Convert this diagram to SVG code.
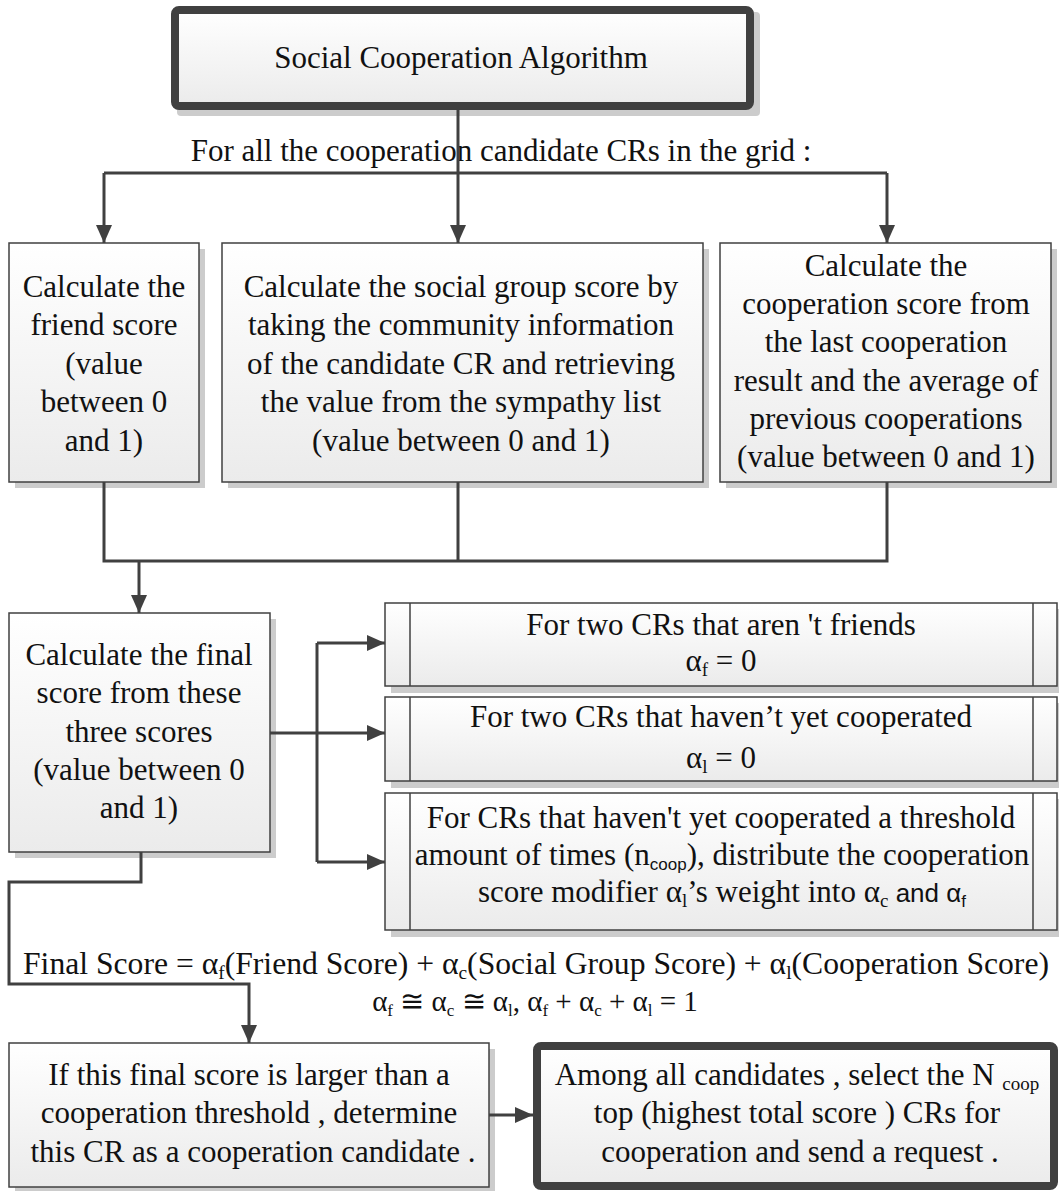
<svg xmlns="http://www.w3.org/2000/svg" width="1059" height="1191" viewBox="0 0 1059 1191">
<style>
.t{font-family:"Liberation Serif","Times New Roman",Times,serif;font-size:31px;fill:#111;text-anchor:middle}
.sub{font-size:19px}
.f2{font-size:29px}
.sub2{font-size:17px}
.sans{font-family:"Liberation Sans",Arial,sans-serif;font-size:26px}
.sans-sub{font-family:"Liberation Sans",Arial,sans-serif;font-size:17px}
.box{fill:url(#g);stroke:#404040;stroke-width:1.5}
.thick{fill:url(#g);stroke:#404040;stroke-width:8}
.sh{fill:#cccccc}
.c{fill:none;stroke:#404040;stroke-width:3}
.a{marker-end:url(#ah)}
.in{stroke:#404040;stroke-width:1.5}
</style>
<defs>
<linearGradient id="g" x1="0" y1="0" x2="0" y2="1">
<stop offset="0" stop-color="#ffffff"/>
<stop offset="1" stop-color="#ebebeb"/>
</linearGradient>
<marker id="ah" markerUnits="userSpaceOnUse" markerWidth="18" markerHeight="16" refX="18" refY="8" orient="auto">
<path d="M0,0 L18,8 L0,16 Z" fill="#404040"/>
</marker>
</defs>
<rect width="1059" height="1191" fill="#ffffff"/>

<g id="title">
<rect class="sh" x="177" y="12" width="583" height="104" rx="4"/>
<rect class="thick" x="175" y="10" width="575" height="96" rx="4"/>
<text class="t" x="461" y="68">Social Cooperation Algorithm</text>
</g>

<g id="loop-label">
<text class="t" x="501" y="161">For all the cooperation candidate CRs in the grid :</text>
</g>

<g id="friend-score">
<rect class="sh" x="15" y="249" width="190" height="239"/>
<rect class="box" x="9" y="243" width="190" height="239"/>
<text class="t" x="104"><tspan x="104" y="297">Calculate the</tspan><tspan x="104" y="335">friend score</tspan><tspan x="104" y="374">(value</tspan><tspan x="104" y="412">between 0</tspan><tspan x="104" y="451">and 1)</tspan></text>
</g>

<g id="group-score">
<rect class="sh" x="228" y="249" width="481" height="239"/>
<rect class="box" x="222" y="243" width="481" height="239"/>
<text class="t" x="461"><tspan x="461" y="297">Calculate the social group score by</tspan><tspan x="461" y="335">taking the community information</tspan><tspan x="461" y="374">of the candidate CR and retrieving</tspan><tspan x="461" y="412">the value from the sympathy list</tspan><tspan x="461" y="451">(value between 0 and 1)</tspan></text>
</g>

<g id="coop-score">
<rect class="sh" x="726" y="249" width="331" height="239"/>
<rect class="box" x="720" y="243" width="331" height="239"/>
<text class="t" x="886"><tspan x="886" y="276">Calculate the</tspan><tspan x="886" y="314">cooperation score from</tspan><tspan x="886" y="352">the last cooperation</tspan><tspan x="886" y="391">result and the average of</tspan><tspan x="886" y="429">previous cooperations</tspan><tspan x="886" y="467">(value between 0 and 1)</tspan></text>
</g>

<g id="final-score">
<rect class="sh" x="15" y="619" width="261" height="239"/>
<rect class="box" x="9" y="613" width="261" height="239"/>
<text class="t" x="139"><tspan x="139" y="665">Calculate the final</tspan><tspan x="139" y="703">score from these</tspan><tspan x="139" y="742">three scores</tspan><tspan x="139" y="780">(value between 0</tspan><tspan x="139" y="818">and 1)</tspan></text>
</g>

<g id="rule-friends">
<rect class="sh" x="391" y="609" width="672" height="84"/>
<rect class="box" x="385" y="603" width="672" height="83"/>
<line class="in" x1="410" y1="603" x2="410" y2="686"/>
<line class="in" x1="1033" y1="603" x2="1033" y2="686"/>
<text class="t" x="721" y="635">For two CRs that aren 't friends</text>
<text class="t" x="721" y="671">α<tspan class="sub" dy="5">f</tspan><tspan dy="-5"> = 0</tspan></text>
</g>

<g id="rule-cooperated">
<rect class="sh" x="391" y="703" width="672" height="85"/>
<rect class="box" x="385" y="697" width="672" height="84"/>
<line class="in" x1="410" y1="697" x2="410" y2="781"/>
<line class="in" x1="1033" y1="697" x2="1033" y2="781"/>
<text class="t" x="721" y="727">For two CRs that haven’t yet cooperated</text>
<text class="t" x="721" y="768">α<tspan class="sub" dy="5">l</tspan><tspan dy="-5"> = 0</tspan></text>
</g>

<g id="rule-threshold">
<rect class="sh" x="391" y="799" width="672" height="138"/>
<rect class="box" x="385" y="793" width="672" height="137"/>
<line class="in" x1="410" y1="793" x2="410" y2="930"/>
<line class="in" x1="1033" y1="793" x2="1033" y2="930"/>
<text class="t" x="721" y="828">For CRs that haven't yet cooperated a threshold</text>
<text class="t" x="722" y="865">amount of times (n<tspan class="sans-sub" dy="5">coop</tspan><tspan dy="-5">), distribute the cooperation</tspan></text>
<text class="t" x="722" y="902">score modifier α<tspan class="sub" dy="5">l</tspan><tspan dy="-5">’s weight into α</tspan><tspan class="sub" dy="5">c</tspan><tspan class="sans" dy="-5"> and α</tspan><tspan class="sans-sub" dy="5">f</tspan></text>
</g>

<g id="formula">
<text class="t" x="536" y="974" textLength="1026" lengthAdjust="spacingAndGlyphs">Final Score = α<tspan class="sub" dy="5">f</tspan><tspan dy="-5">(Friend Score) + α</tspan><tspan class="sub" dy="5">c</tspan><tspan dy="-5">(Social Group Score) + α</tspan><tspan class="sub" dy="5">l</tspan><tspan dy="-5">(Cooperation Score)</tspan></text>
<text class="t f2" x="535" y="1011">α<tspan class="sub2" dy="5">f</tspan><tspan dy="-5"> ≅ α</tspan><tspan class="sub2" dy="5">c</tspan><tspan dy="-5"> ≅ α</tspan><tspan class="sub2" dy="5">l</tspan><tspan dy="-5">, α</tspan><tspan class="sub2" dy="5">f</tspan><tspan dy="-5"> + α</tspan><tspan class="sub2" dy="5">c</tspan><tspan dy="-5"> + α</tspan><tspan class="sub2" dy="5">l</tspan><tspan dy="-5"> = 1</tspan></text>
</g>

<g id="threshold-check">
<rect class="sh" x="15" y="1049" width="480" height="144"/>
<rect class="box" x="9" y="1043" width="480" height="144"/>
<text class="t" x="249"><tspan x="249" y="1085">If this final score is larger than a</tspan><tspan x="249" y="1123">cooperation threshold , determine</tspan><tspan x="253" y="1162">this CR as a cooperation candidate .</tspan></text>
</g>

<g id="select-top">
<rect class="thick" x="537" y="1046" width="517" height="140" rx="4"/>
<text class="t" x="797"><tspan x="797" y="1085">Among all candidates , select the N <tspan class="sub" dy="5">coop</tspan></tspan><tspan x="797" y="1123">top (highest total score ) CRs for</tspan><tspan x="800" y="1162">cooperation and send a request .</tspan></text>
</g>

<g id="connectors">
<path class="c a" d="M458,110 V243"/>
<path class="c" d="M104,173 H887"/>
<path class="c a" d="M104,173 V243"/>
<path class="c a" d="M887,173 V243"/>
<path class="c" d="M104,482 V561 H887 V482 M458,482 V561"/>
<path class="c a" d="M139,561 V613"/>
<path class="c a" d="M270,733 H385"/>
<path class="c" d="M317,643 V862"/>
<path class="c a" d="M317,643 H385"/>
<path class="c a" d="M317,862 H385"/>
<path class="c a" d="M141,852 V882 H9 V984 H249 V1043"/>
<path class="c a" d="M489,1115 H533"/>
</g>
</svg>
